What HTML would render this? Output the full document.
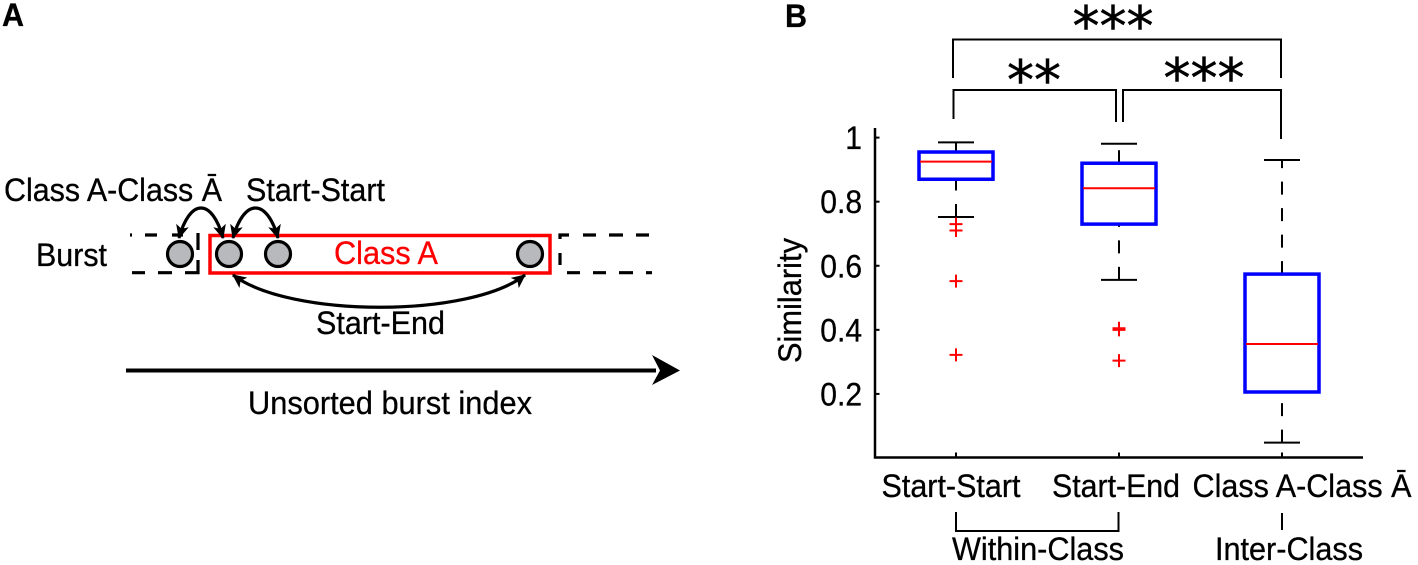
<!DOCTYPE html>
<html lang="en">
<head>
<meta charset="utf-8">
<title>Burst similarity figure</title>
<style>
html,body{margin:0;padding:0;background:#fff;}
svg{display:block;}
text{font-family:"Liberation Sans",sans-serif;font-size:32px;fill:#000;stroke:#000;stroke-width:.3px;}
.star{font-family:"DejaVu Sans",sans-serif;font-size:54px;text-anchor:middle;stroke-width:.5px;}
.bold{font-weight:bold;}
</style>
</head>
<body>
<svg id="fig" xmlns="http://www.w3.org/2000/svg" width="1418" height="565" viewBox="0 0 1418 565">
  <defs>
    <marker id="ah" viewBox="0 0 14 14" refX="13" refY="7" markerWidth="14" markerHeight="14" markerUnits="userSpaceOnUse" orient="auto-start-reverse">
      <path d="M0 0.500L14 7L0 13.500L3.500 7Z" fill="#000"></path>
    </marker>
  </defs>

  <g>
    <text class="bold" x="2" y="26" textLength="22" lengthAdjust="spacingAndGlyphs">A</text>
    <path d="M130 235h2M145 235h12M172 235h11M198 233V250M198 260V272.700H185M172 272.700H158M145 272.700H132" fill="none" stroke="#000" stroke-width="3.200"></path>
    <path d="M560 239V235H569M583 235H596M609 235H623M636 235H649M560 253V265" fill="none" stroke="#000" stroke-width="3.200"></path>
    <path d="M567 272.700H580M593 272.700H606M619 272.700H633M646 272.700H652" fill="none" stroke="#000" stroke-width="3.200"></path>
    <rect x="210" y="235.500" width="340" height="37.500" fill="none" stroke="#f00" stroke-width="3.500"></rect>
    <circle cx="180" cy="254" r="12.500" fill="#b8b9bc" stroke="#000" stroke-width="3.200"></circle>
    <circle cx="229" cy="254" r="12.500" fill="#b8b9bc" stroke="#000" stroke-width="3.200"></circle>
    <circle cx="278" cy="254" r="12.500" fill="#b8b9bc" stroke="#000" stroke-width="3.200"></circle>
    <circle cx="530" cy="254" r="12.500" fill="#b8b9bc" stroke="#000" stroke-width="3.200"></circle>
    <path d="M179 238C190 198 212 198 223 238" fill="none" stroke="#000" stroke-width="3.200" marker-start="url(#ah)" marker-end="url(#ah)"></path>
    <path d="M233 238C244 198 267 198 278 238" fill="none" stroke="#000" stroke-width="3.200" marker-start="url(#ah)" marker-end="url(#ah)"></path>
    <path d="M233 275C290 318 470 318 525 275" fill="none" stroke="#000" stroke-width="3.200" marker-start="url(#ah)" marker-end="url(#ah)"></path>
    <text x="4" y="201" textLength="218" lengthAdjust="spacingAndGlyphs">Class A-Class Ā</text>
    <text x="246" y="201" textLength="139" lengthAdjust="spacingAndGlyphs">Start-Start</text>
    <text x="36" y="266" textLength="71" lengthAdjust="spacingAndGlyphs">Burst</text>
    <text x="334" y="264" textLength="104" lengthAdjust="spacingAndGlyphs" style="fill:#f00;stroke:#f00">Class A</text>
    <text x="316" y="334" textLength="129" lengthAdjust="spacingAndGlyphs">Start-End</text>
    <path d="M126 370.500H656" stroke="#000" stroke-width="4" fill="none"></path>
    <path d="M680 370.500L652 355L660 370.500L652 385Z" fill="#000"></path>
    <text x="248" y="414" textLength="284" lengthAdjust="spacingAndGlyphs">Unsorted burst index</text>
  </g>

  <g id="panel-b">
    <text class="bold" x="785" y="27" textLength="22" lengthAdjust="spacingAndGlyphs">B</text>
    <path d="M953 78V39.500H1281V78" fill="none" stroke="#000" stroke-width="2"></path>
    <path d="M953.500 119V90H1116V122" fill="none" stroke="#000" stroke-width="2"></path>
    <path d="M1123 122V90H1281V139" fill="none" stroke="#000" stroke-width="2"></path>
    <text class="star" x="1113" y="45">***</text>
    <text class="star" x="1034" y="99">**</text>
    <text class="star" x="1204" y="97">***</text>
    <path d="M956 512V531H1118.500V512" fill="none" stroke="#000" stroke-width="2"></path>
    <path d="M1282 513V530" fill="none" stroke="#000" stroke-width="2"></path>
    <text x="952" y="560" textLength="172" lengthAdjust="spacingAndGlyphs">Within-Class</text>
    <text x="1215" y="560" textLength="148" lengthAdjust="spacingAndGlyphs">Inter-Class</text>
    <text transform="translate(801 363) rotate(-90)" textLength="125" lengthAdjust="spacingAndGlyphs">Similarity</text>
  </g>
</svg>
<script>
const categories = ["Start-Start", "Start-End", "Class A-Class Ā"];
const whiskerHigh = [0.985, 0.981, 0.93];
const q3 = [0.955, 0.92, 0.574];
const median = [0.925, 0.842, 0.356];
const q1 = [0.87, 0.73, 0.206];
const whiskerLow = [0.752, 0.556, 0.048];
const outliers = [[0.73, 0.71, 0.552, 0.322], [0.405, 0.4, 0.304], []];
const yTicks = [0.2, 0.4, 0.6, 0.8, 1];
const yTickLabels = ["0.2", "0.4", "0.6", "0.8", "1"];

const yOf = v => 458 - 320.4 * v;
const xOf = i => 956 + 163 * i;
const labelOffset = [-5, -3, 20];
const labelWidth = [139, 128, 219];
const panel = document.getElementById('panel-b');
const NS = 'http://www.w3.org/2000/svg';
function mk(tag, attrs) {
  const n = document.createElementNS(NS, tag);
  for (const k in attrs) n.setAttribute(k, attrs[k]);
  n.setAttribute('fill', attrs.fill || 'none');
  panel.appendChild(n);
  return n;
}
let el;
el = mk('path', {d: 'M875 128V457.500H1363', stroke: '#000', 'stroke-width': 2.5});



yTicks.forEach((t, i) => {
  el = mk('path', {d: `M875 ${yOf(t)}h4.500`, stroke: '#000', 'stroke-width': 2});
  
  
  el = mk('text', {x: 862, y: yOf(t) + 11.5, 'text-anchor': 'end', style: 'fill:#000', textLength: yTickLabels[i].length > 1 ? 41.7 : 16.7, lengthAdjust: 'spacingAndGlyphs'});
  el.textContent = yTickLabels[i];
  
  
});

categories.forEach((c, i) => {
  const x = xOf(i);
  el = mk('path', {d: `M${x} 457.500v-5`, stroke: '#000', 'stroke-width': 2});
  
  
  el = mk('text', {x: x + labelOffset[i], y: 497, 'text-anchor': 'middle', style: 'fill:#000', textLength: labelWidth[i], lengthAdjust: 'spacingAndGlyphs'});
  el.textContent = c;
  
  

  el = mk('path', {d: `M${x} ${yOf(q3[i])}V${yOf(whiskerHigh[i])}`, stroke: '#000', 'stroke-width': 2, 'stroke-dasharray': '13 13.5'});
  
  
  el = mk('path', {d: `M${x} ${yOf(whiskerLow[i])}V${yOf(q1[i])}`, stroke: '#000', 'stroke-width': 2, 'stroke-dasharray': '13 13.5'});
  
  
  el = mk('path', {d: `M${x - 18} ${yOf(whiskerHigh[i])}h36`, stroke: '#000', 'stroke-width': 2});
  
  
  el = mk('path', {d: `M${x - 18} ${yOf(whiskerLow[i])}h36`, stroke: '#000', 'stroke-width': 2});
  
  
  el = mk('rect', {x: x - 37, y: yOf(q3[i]), width: 74, height: yOf(q1[i]) - yOf(q3[i]), stroke: '#00f', 'stroke-width': 3.5});
  
  
  el = mk('path', {d: `M${x - 36} ${yOf(median[i])}h72`, stroke: '#f00', 'stroke-width': 2});
  
  
  outliers[i].forEach(v => {
    const y = yOf(v);
    el = mk('path', {d: `M${x - 6.500} ${y}h13M${x} ${y - 6.500}v13`, stroke: '#f00', 'stroke-width': 2});
    
    
  });
});
</script>
</body>
</html>
